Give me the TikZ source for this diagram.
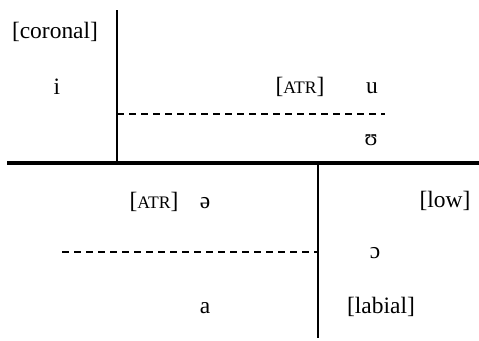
\documentclass[tikz,border=0pt]{standalone}
\usepackage{fontspec}
\setmainfont{Liberation Serif}
\newcommand\fakesmcp[1]{{\fontsize{13.2pt}{14pt}\selectfont #1}}
\tikzset{
  lbl/.style={anchor=base,inner sep=0pt,font=\fontsize{17.6pt}{20pt}\selectfont},
  rule/.style={line width=1.2pt},
  mainrule/.style={line width=3pt},
  dashrule/.style={line width=1.1pt,dash pattern=on 5.5pt off 3.5pt}
}
\begin{document}
\begin{tikzpicture}[x=0.75pt,y=-0.75pt]
\useasboundingbox (0,0) rectangle (479,340);
% coordinates
\coordinate (v1top) at (117,10);
\coordinate (v1bot) at (117,163);
\coordinate (hleft) at (7,163);
\coordinate (hright) at (479,163);
\coordinate (d1l) at (117,114);
\coordinate (d1r) at (385,114);
\coordinate (v2top) at (318,163);
\coordinate (v2bot) at (318,338);
\coordinate (d2l) at (62,252);
\coordinate (d2r) at (318,252);
% lines
\draw[rule] (v1top) -- (v1bot);
\draw[rule] (v2top) -- (v2bot);
\draw[dashrule] (d1l) -- (d1r);
\draw[dashrule] (d2l) -- (d2r);
\draw[mainrule] (hleft) -- (hright);
% labels
\node[lbl] (coronal) at (55,38.5) {[coronal]};
\node[lbl] (i) at (57,94) {i};
\node[lbl] (atr1) at (300,93.5) {[\fakesmcp{ATR}]};
\node[lbl] (u) at (372,93.5) {u};
\node[lbl] (upsilon) at (371,145.5) {ʊ};
\node[lbl] (atr2) at (154,208) {[\fakesmcp{ATR}]};
\node[lbl] (schwa) at (205,208) {ə};
\node[lbl] (low) at (445,207.5) {[low]};
\node[lbl] (openo) at (375,258.5) {ɔ};
\node[lbl] (a) at (205,313.5) {a};
\node[lbl] (labial) at (381,313.5) {[labial]};
\end{tikzpicture}
\end{document}
